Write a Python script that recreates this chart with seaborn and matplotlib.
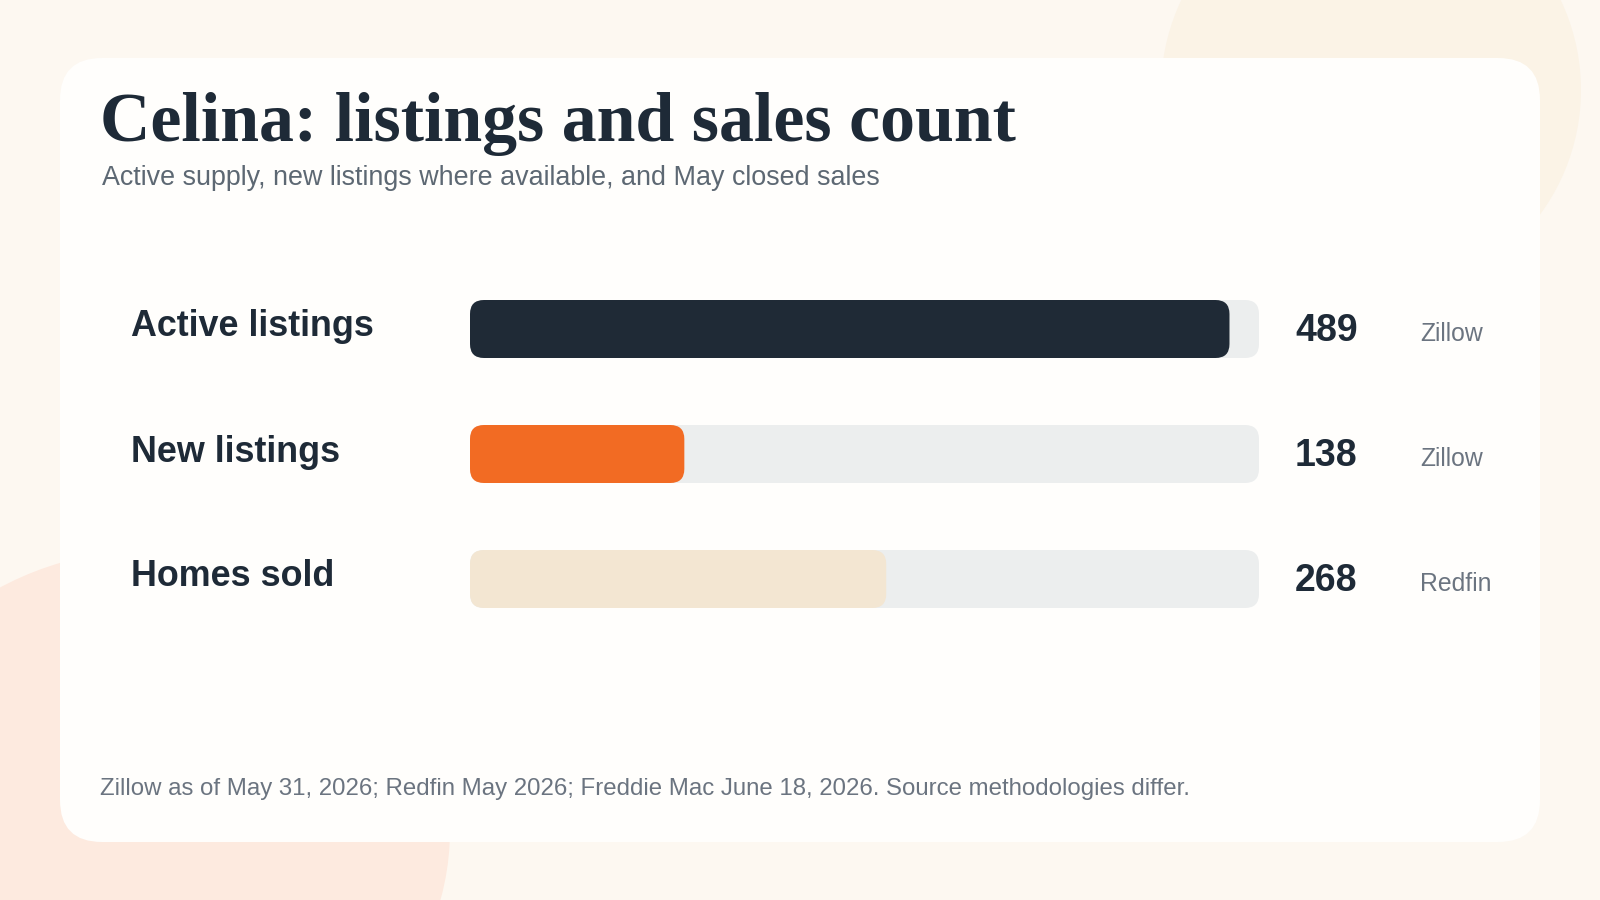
import matplotlib
matplotlib.use("Agg")
import matplotlib.pyplot as plt
import matplotlib.transforms as mtransforms
from matplotlib.patches import FancyBboxPatch, Ellipse, Circle
import seaborn as sns
import pandas as pd

# ---- data ----
categories = ["Active listings", "New listings", "Homes sold"]
values = [489, 138, 268]
sources = ["Zillow", "Zillow", "Redfin"]
bar_colors = ["#1f2a36", "#f26b23", "#f3e6d2"]
title = "Celina: listings and sales count"
subtitle = "Active supply, new listings where available, and May closed sales"
footer = "Zillow as of May 31, 2026; Redfin May 2026; Freddie Mac June 18, 2026. Source methodologies differ."
scale_max = 508

sns.set_theme(style="white")
plt.rcParams["font.family"] = ["Liberation Sans", "DejaVu Sans"]

W, H = 1600, 900
fig = plt.figure(figsize=(16, 9), dpi=100)

# ---- background layer in pixel coordinates ----
bg = fig.add_axes([0, 0, 1, 1])
bg.set_xlim(0, W)
bg.set_ylim(H, 0)
bg.axis("off")
bg.add_patch(plt.Rectangle((0, 0), W, H, color="#fdf8f1", zorder=0))
bg.add_patch(Circle((1371, 90), 210, color="#fbf3e6", zorder=1, lw=0))
bg.add_patch(Ellipse((150, 830), 600, 560, color="#fdeadf", zorder=1, lw=0))
card = FancyBboxPatch((60, 58), 1480, 784,
                      boxstyle="round,pad=0,rounding_size=42",
                      fc="#fffefc", ec="none", zorder=2)
bg.add_patch(card)

dark = "#1e2a37"
grey = "#5d6873"
bg.text(100, 141, title, fontsize=50.3, fontweight="bold",
        family=["Liberation Serif", "DejaVu Serif"], color=dark,
        va="baseline", ha="left", zorder=5)
bg.text(102, 185, subtitle, fontsize=19.4, color=grey,
        va="baseline", ha="left", zorder=5)
bg.text(100, 795, footer, fontsize=17.3, color="#6b7480",
        va="baseline", ha="left", zorder=5)

# ---- bar chart ----
px_left, px_right = 470, 1259
row_px = 125
first_center = 329
ax_top = first_center - row_px / 2
ax_bottom = ax_top + row_px * len(categories)
ax = fig.add_axes([px_left / W, 1 - ax_bottom / H,
                   (px_right - px_left) / W, (ax_bottom - ax_top) / H])
ax.set_zorder(3)
ax.patch.set_alpha(0)

df = pd.DataFrame({"category": categories, "value": values,
                   "track": [scale_max] * len(categories)})
bar_h = 58 / row_px

sns.barplot(data=df, y="category", x="track", color="#eceeee",
            width=bar_h, ax=ax, saturation=1)
n_track = len(ax.patches)
sns.barplot(data=df, y="category", x="value", hue="category",
            palette=bar_colors, width=bar_h, ax=ax, saturation=1, legend=False)

ax.set_xlim(0, scale_max)
ax.set_ylim(len(categories) - 0.5, -0.5)
ax.axis("off")

# replace rectangles with rounded bars
x_per_px = scale_max / (px_right - px_left)
y_per_px = 1.0 / row_px
radius_px = 14
patches = list(ax.patches)
for i, p in enumerate(patches):
    x0, y0 = p.get_x(), p.get_y()
    w, h = p.get_width(), p.get_height()
    fc = p.get_facecolor()
    p.remove()
    r = min(radius_px * x_per_px, w / 2)
    ax.add_patch(FancyBboxPatch((x0, y0), w, h,
                                boxstyle=f"round,pad=0,rounding_size={r}",
                                mutation_aspect=y_per_px / x_per_px,
                                fc=fc, ec="none", zorder=2 + (i >= n_track)))

# labels
trans = mtransforms.blended_transform_factory(fig.transFigure, ax.transData)
for i, (cat, val, src) in enumerate(zip(categories, values, sources)):
    ax.text(131 / W, i + 7.5 * y_per_px, cat, transform=trans,
            fontsize=25.8, fontweight="bold", color=dark,
            va="baseline", ha="left", clip_on=False)
    ax.text(1295 / W, i + 12 * y_per_px, f"{val}", transform=trans,
            fontsize=27, fontweight="bold", color=dark,
            va="baseline", ha="left", clip_on=False)
    ax.text(1420 / W, i + 12 * y_per_px, src, transform=trans,
            fontsize=17.8, color="#6b7480",
            va="baseline", ha="left", clip_on=False)

fig.savefig("out.png", dpi=100)
